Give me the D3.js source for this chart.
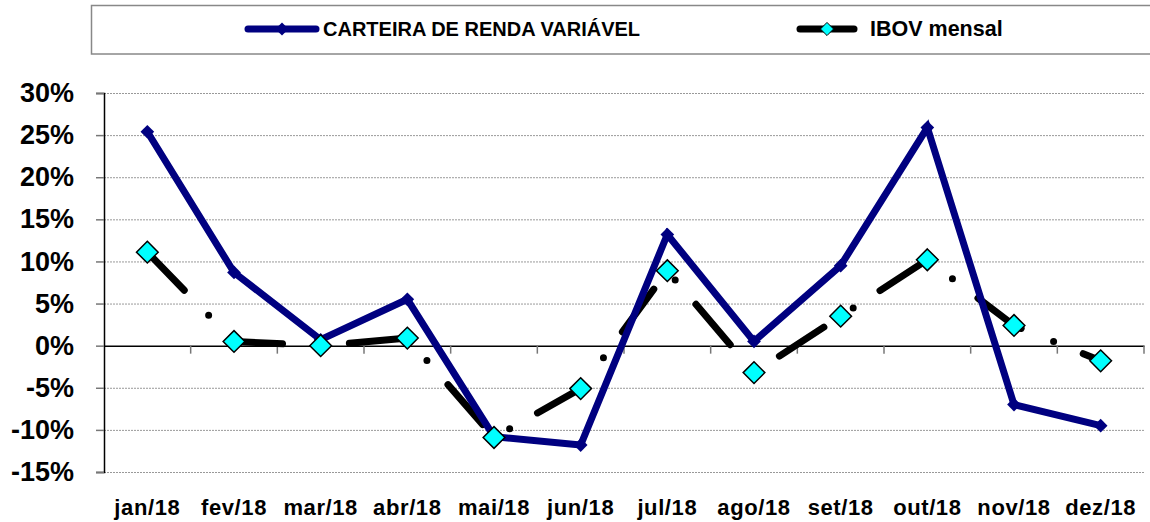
<!DOCTYPE html>
<html>
<head>
<meta charset="utf-8">
<script src="https://cdn.jsdelivr.net/npm/d3@7"></script>
<style>
  body { margin: 0; background: #fff; }
  svg { display: block; font-family: "Liberation Sans", Arial, sans-serif; font-weight: bold; }
</style>
</head>
<body>
<svg id="chart" width="1150" height="522"></svg>
<script>
// meses e valores (em %)
const meses = ['jan/18', 'fev/18', 'mar/18', 'abr/18', 'mai/18', 'jun/18',
               'jul/18', 'ago/18', 'set/18', 'out/18', 'nov/18', 'dez/18'];
const carteira = [25.4, 8.7, 0.7, 5.5, -10.8, -11.8, 13.2, 0.5, 9.5, 25.9, -7.0, -9.5];
const ibov = [11.1, 0.5, 0.0, 0.9, -10.9, -5.1, 8.9, -3.2, 3.5, 10.2, 2.4, -1.8];
const ticksY = [-15, -10, -5, 0, 5, 10, 15, 20, 25, 30];

const svg = d3.select('#chart');
const pLeft = 104, pRight = 1144, pTop = 93, pBottom = 472;

let x = d3.scaleBand().domain(meses).range([pLeft, pRight]);
let y = d3.scaleLinear().domain([-15, 30]).range([pBottom, pTop]);

// legenda
svg.append('rect')
    .attr('x', 91.5).attr('y', 5.5)
    .attr('width', 1070).attr('height', 48.5)
    .style('fill', 'none').style('stroke', '#888').style('stroke-width', 1.5);

// grade
svg.append('g').selectAll('line')
    .data(ticksY.filter(d => d !== 0))
    .enter().append('line')
    .attr('x1', pLeft).attr('x2', pRight)
    .attr('y1', d => y(d) + 0.5).attr('y2', d => y(d) + 0.5)
    .style('stroke', '#999').style('stroke-width', 1)
    .style('stroke-dasharray', '2,1');

// eixo Y
let yAxis = svg.append('g')
    .attr('transform', 'translate(' + pLeft + ',0)')
    .call(d3.axisLeft(y).tickValues(ticksY).tickSize(8).tickPadding(22)
        .tickFormat(d => d + '%'));
yAxis.select('.domain').style('stroke', '#000').style('stroke-width', 1.5);
yAxis.selectAll('.tick line').style('stroke', '#777').style('stroke-width', 1.5);
yAxis.selectAll('.tick text')
    .style('font-size', '27px').style('font-weight', 'bold')
    .style('font-family', '"Liberation Sans", Arial, sans-serif')
    .style('fill', '#000');

// eixo X na linha do zero
let xAxis = svg.append('g')
    .attr('transform', 'translate(0,' + y(0) + ')')
    .call(d3.axisBottom(x).tickSize(0).tickFormat(''));
xAxis.select('.domain').style('stroke', '#000').style('stroke-width', 1.5);

svg.append('g').selectAll('line')
    .data(meses)
    .enter().append('line')
    .attr('x1', d => x(d) + x.bandwidth()).attr('x2', d => x(d) + x.bandwidth())
    .attr('y1', y(0)).attr('y2', y(0) + 8)
    .style('stroke', '#777').style('stroke-width', 1.5);

// rótulos dos meses
svg.append('g').selectAll('text')
    .data(meses)
    .enter().append('text')
    .attr('x', d => x(d) + x.bandwidth() / 2)
    .attr('y', 515)
    .attr('text-anchor', 'middle')
    .style('font-size', '22px')
    .style('letter-spacing', '0.6px')
    .text(d => d);

let cx = (d, i) => x(meses[i]) + x.bandwidth() / 2;

// IBOV mensal
let lineIbov = d3.line().x(cx).y(d => y(d));
svg.append('path')
    .datum(ibov)
    .attr('d', lineIbov)
    .style('fill', 'none').style('stroke', '#000')
    .style('stroke-width', 7).style('stroke-linecap', 'round')
    .style('stroke-dasharray', '53,35,0,32');

// carteira
let lineCart = d3.line().x(cx).y(d => y(d));
svg.append('path')
    .datum(carteira)
    .attr('d', lineCart)
    .style('fill', 'none').style('stroke', '#000080')
    .style('stroke-width', 7).style('stroke-linejoin', 'miter');

let diamond = d3.symbol().type(d3.symbolDiamond2);

svg.append('g').selectAll('path')
    .data(carteira)
    .enter().append('path')
    .attr('transform', (d, i) => 'translate(' + cx(d, i) + ',' + y(d) + ')')
    .attr('d', diamond.size(120))
    .style('fill', '#000080');

svg.append('g').selectAll('path')
    .data(ibov)
    .enter().append('path')
    .attr('transform', (d, i) => 'translate(' + cx(d, i) + ',' + y(d) + ')')
    .attr('d', d3.symbol().type(d3.symbolDiamond2).size(300))
    .style('fill', '#00ffff').style('stroke', '#000').style('stroke-width', 1.5);

// itens da legenda
let leg1 = svg.append('g');
leg1.append('line').attr('x1', 248).attr('x2', 316).attr('y1', 29).attr('y2', 29)
    .style('stroke', '#000080').style('stroke-width', 7).style('stroke-linecap', 'round');
leg1.append('path').attr('transform', 'translate(282,29)')
    .attr('d', d3.symbol().type(d3.symbolDiamond2).size(110)).style('fill', '#000080');
leg1.append('text').attr('x', 323).attr('y', 36).style('font-size', '20px')
    .text('CARTEIRA DE RENDA VARIÁVEL');

let leg2 = svg.append('g');
leg2.append('line').attr('x1', 800).attr('x2', 854).attr('y1', 29).attr('y2', 29)
    .style('stroke', '#000').style('stroke-width', 7).style('stroke-linecap', 'round');
leg2.append('path').attr('transform', 'translate(827,29)')
    .attr('d', d3.symbol().type(d3.symbolDiamond2).size(110))
    .style('fill', '#00ffff').style('stroke', '#000').style('stroke-width', 1);
leg2.append('text').attr('x', 870).attr('y', 36).style('font-size', '21.5px')
    .text('IBOV mensal');
</script>
</body>
</html>
